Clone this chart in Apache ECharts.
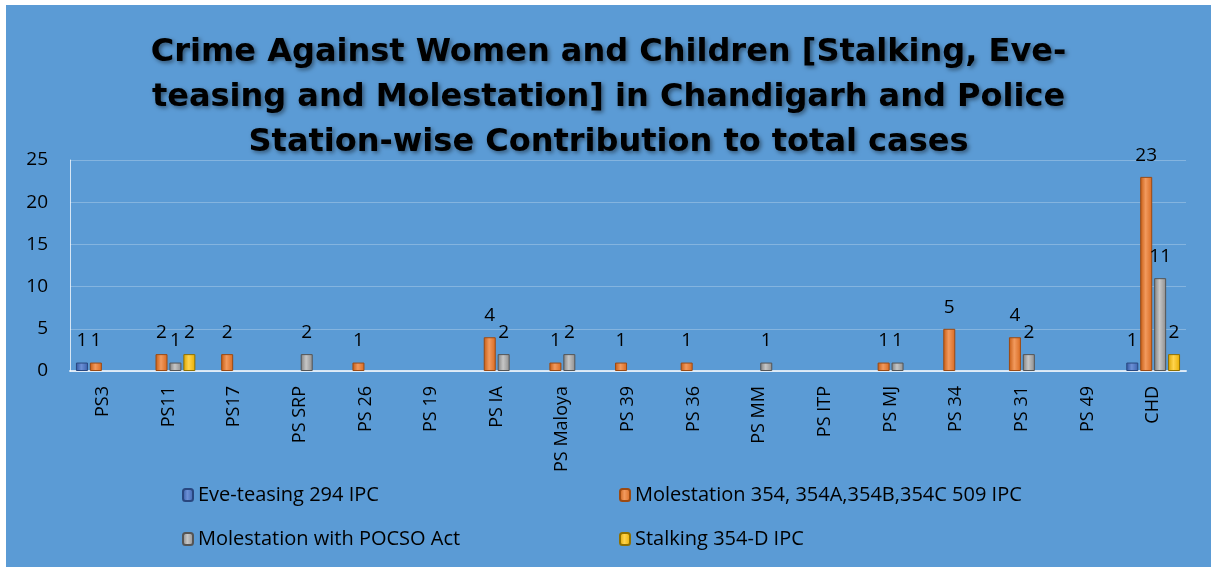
<!DOCTYPE html>
<html>
<head>
<meta charset="utf-8">
<script src="https://cdn.jsdelivr.net/npm/echarts@6/dist/echarts.min.js"></script>
<style>
  html, body { margin: 0; padding: 0; background: #fff; }
  #chart { position: absolute; left: 6px; top: 5px; width: 1205px; height: 562px; }
</style>
</head>
<body>
<div id="chart"></div>
<script>
const categories = ['PS3', 'PS11', 'PS17', 'PS SRP', 'PS 26', 'PS 19', 'PS IA', 'PS Maloya', 'PS 39',
    'PS 36', 'PS MM', 'PS ITP', 'PS MJ', 'PS 34', 'PS 31', 'PS 49', 'CHD'];

const eveTeasing = [1, null, null, null, null, null, null, null, null, null, null, null, null, null, null, null, 1];
const molestation = [1, 2, 2, null, 1, null, 4, 1, 1, 1, null, null, 1, 5, 4, null, 23];
const pocso = [null, 1, null, 2, null, null, 2, 2, null, null, 1, null, 1, null, 2, null, 11];
const stalking = [null, 2, null, null, null, null, null, null, null, null, null, null, null, null, null, null, 2];

const seriesNames = ['Eve-teasing 294 IPC', 'Molestation 354, 354A,354B,354C 509 IPC',
    'Molestation with POCSO Act', 'Stalking 354-D IPC'];

const yTicks = [0, 5, 10, 15, 20, 25];

const font = '"Open Sans", sans-serif';

// horizontal gradient to fake Excel's 3D bevel look
const bevel = (dark, mid, light) => new echarts.graphic.LinearGradient(0, 0, 1, 0, [
    { offset: 0, color: dark },
    { offset: 0.45, color: light },
    { offset: 1, color: mid },
]);

const makeSeries = (name, data, fill, edge) => ({
    name,
    type: 'bar',
    data,
    barWidth: 12,
    barGap: '16%',
    itemStyle: { color: fill, borderColor: edge, borderWidth: 1 },
    label: {
        show: true,
        position: 'top',
        distance: 12,
        color: '#000',
        fontSize: 19,
        fontFamily: font,
    },
});

const chart = echarts.init(document.getElementById('chart'));

const legendText = { fontFamily: font, fontSize: 20, color: '#000' };

chart.setOption({
    backgroundColor: '#5b9bd5',
    animation: false,
    color: ['#4472c4', '#ed7d31', '#a5a5a5', '#ffc000'],
    title: {
        text: 'Crime Against Women and Children [Stalking, Eve-\nteasing and Molestation] in Chandigarh and Police\nStation-wise Contribution to total cases',
        left: 'center',
        top: 20,
        textStyle: {
            fontFamily: '"DejaVu Sans", sans-serif',
            fontWeight: 'bold',
            fontSize: 32,
            lineHeight: 45,
            color: '#000',
            textShadowColor: 'rgba(0,0,0,0.45)',
            textShadowBlur: 4,
            textShadowOffsetX: 2,
            textShadowOffsetY: 2,
        },
    },
    grid: { left: 64, right: 25, top: 155, bottom: 196 },
    legend: [
        {
            data: [seriesNames[0], seriesNames[2]],
            orient: 'vertical',
            left: 171,
            top: 475,
            itemWidth: 10,
            itemHeight: 12,
            itemGap: 24,
            textStyle: legendText,
        },
        {
            data: [seriesNames[1], seriesNames[3]],
            orient: 'vertical',
            left: 608,
            top: 475,
            itemWidth: 10,
            itemHeight: 12,
            itemGap: 24,
            textStyle: legendText,
        },
    ],
    xAxis: {
        type: 'category',
        data: categories,
        axisLine: { lineStyle: { color: 'rgba(255,255,255,0.75)', width: 2 } },
        axisTick: { show: false },
        axisLabel: {
            rotate: 90,
            interval: 0,
            margin: 15,
            color: '#000',
            fontSize: 18,
            fontFamily: font,
        },
    },
    yAxis: {
        type: 'value',
        min: yTicks[0],
        max: yTicks[yTicks.length - 1],
        interval: 5,
        axisLine: { show: true, lineStyle: { color: 'rgba(255,255,255,0.75)', width: 1 } },
        axisTick: { show: false },
        splitLine: { lineStyle: { color: 'rgba(255,255,255,0.25)', width: 1 } },
        axisLabel: { margin: 22, color: '#000', fontSize: 19, fontFamily: font },
    },
    series: [
        makeSeries(seriesNames[0], eveTeasing, bevel('#2f55a0', '#3b62ad', '#6c90d6'), '#29477f'),
        makeSeries(seriesNames[1], molestation, bevel('#c55a11', '#d8691f', '#f29a5e'), '#9c4a12'),
        makeSeries(seriesNames[2], pocso, bevel('#7f7f7f', '#8c8c8c', '#c6c6c6'), '#555555'),
        makeSeries(seriesNames[3], stalking, bevel('#d9a300', '#e6ad00', '#ffd44d'), '#8f7000'),
    ],
});
</script>
</body>
</html>
